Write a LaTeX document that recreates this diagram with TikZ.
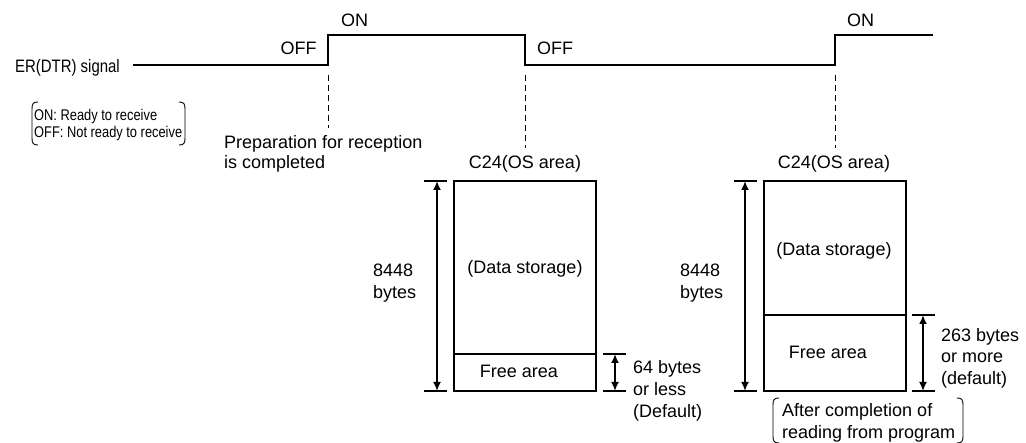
\documentclass[tikz,border=0pt]{standalone}
\usepackage{fontspec}
\setmainfont{Liberation Sans}
\newfontfamily\narrowfont[FakeStretch=0.83]{Liberation Sans}
\usetikzlibrary{arrows.meta}
\begin{document}
\begin{tikzpicture}[x=1pt,y=-1pt,
  sig/.style={line width=2pt, line join=miter},
  dashline/.style={line width=0.9pt, dash pattern=on 6pt off 4pt},
  boxline/.style={line width=1.8pt},
  dimarrow/.style={line width=1.8pt, {Latex[length=9pt,width=8pt]}-{Latex[length=9pt,width=8pt]}},
  tickline/.style={line width=1.5pt},
  brk/.style={line width=0.9pt},
  txt/.style={inner sep=0pt, font=\fontsize{18}{22}\selectfont, align=left},
  ntxt/.style={inner sep=0pt, font=\narrowfont\fontsize{18}{22}\selectfont},
  ltxt/.style={inner sep=0pt, font=\narrowfont\fontsize{15.5}{16.2}\selectfont, align=left}]
\useasboundingbox (0,0) rectangle (1026,443);

% signal
\coordinate (s0) at (133,65);
\coordinate (r1) at (328,65);
\coordinate (r1h) at (328,35);
\coordinate (f1h) at (525,35);
\coordinate (f1) at (525,65);
\coordinate (r2) at (835,65);
\coordinate (r2h) at (835,35);
\coordinate (s1) at (933,35);
\draw[sig] (s0) -- (r1) -- (r1h) -- (f1h) -- (f1) -- (r2) -- (r2h) -- (s1);

\node[ntxt, anchor=base east] (sigl) at (120,73) {ER(DTR) signal};
\node[txt, anchor=base] (off1) at (298.5,54.7) {OFF};
\node[txt, anchor=base] (on1) at (354.5,27) {ON};
\node[txt, anchor=base] (off2) at (555,54.7) {OFF};
\node[txt, anchor=base] (on2) at (860.5,26.5) {ON};

% legend
\node[ltxt, anchor=base west] (leg) at (34,137.2) {ON: Ready to receive\\OFF: Not ready to receive};
\draw[brk] (38,102) .. controls (33,102) and (32,104) .. (32,109) -- (32,138) .. controls (32,143) and (33,145) .. (38,145);
\draw[brk] (179,102) .. controls (184,102) and (185,104) .. (185,109) -- (185,138) .. controls (185,143) and (184,145) .. (179,145);

% dashed lines
\coordinate (d1a) at (328,75); \coordinate (d1b) at (328,128);
\coordinate (d2a) at (525,75); \coordinate (d2b) at (525,148);
\coordinate (d3a) at (835,75); \coordinate (d3b) at (835,148);
\draw[dashline] (d1a) -- (d1b);
\draw[dashline] (d2a) -- (d2b);
\draw[dashline] (d3a) -- (d3b);

\node[txt, font=\fontsize{18}{20}\selectfont, anchor=base west] (prep) at (224,168.5) {Preparation for reception\\is completed};
\node[txt, anchor=base] (c24a) at (525,169) {C24(OS area)};
\node[txt, anchor=base] (c24b) at (834,169) {C24(OS area)};

% box 1
\coordinate (b1tl) at (454,181); \coordinate (b1br) at (596,391);
\draw[boxline] (b1tl) rectangle (b1br);
\coordinate (b1dl) at (454,354); \coordinate (b1dr) at (596,354);
\draw[boxline] (b1dl) -- (b1dr);
\node[txt, anchor=base] (ds1) at (525,273.5) {(Data storage)};
\node[txt, anchor=base] (fa1) at (519,378) {Free area};

% box 2
\coordinate (b2tl) at (764,181); \coordinate (b2br) at (906,391);
\draw[boxline] (b2tl) rectangle (b2br);
\coordinate (b2dl) at (764,315); \coordinate (b2dr) at (906,315);
\draw[boxline] (b2dl) -- (b2dr);
\node[txt, anchor=base] (ds2) at (834,255.8) {(Data storage)};
\node[txt, anchor=base] (fa2) at (828,359) {Free area};

% dimension 8448 (1)
\coordinate (t1a) at (424,181); \coordinate (t1b) at (447,181);
\coordinate (t1c) at (424,391); \coordinate (t1d) at (447,391);
\draw[tickline] (t1a) -- (t1b);
\draw[tickline] (t1c) -- (t1d);
\coordinate (a1t) at (437,181); \coordinate (a1b) at (437,391);
\draw[dimarrow] (a1t) -- (a1b);
\node[txt, anchor=base west] (sz1) at (373,298.5) {8448\\bytes};

% dimension free (1)
\coordinate (u1a) at (603,354); \coordinate (u1b) at (626,354);
\coordinate (u1c) at (603,391); \coordinate (u1d) at (626,391);
\draw[tickline] (u1a) -- (u1b);
\draw[tickline] (u1c) -- (u1d);
\coordinate (e1t) at (615,354); \coordinate (e1b) at (615,391);
\draw[dimarrow] (e1t) -- (e1b);
\node[txt, anchor=base west] (fr1) at (633,417.5) {64 bytes\\or less\\(Default)};

% dimension 8448 (2)
\coordinate (t2a) at (734,181); \coordinate (t2b) at (757,181);
\coordinate (t2c) at (734,391); \coordinate (t2d) at (757,391);
\draw[tickline] (t2a) -- (t2b);
\draw[tickline] (t2c) -- (t2d);
\coordinate (a2t) at (745,181); \coordinate (a2b) at (745,391);
\draw[dimarrow] (a2t) -- (a2b);
\node[txt, anchor=base west] (sz2) at (680,298.5) {8448\\bytes};

% dimension free (2)
\coordinate (u2a) at (912,315); \coordinate (u2b) at (935,315);
\coordinate (u2c) at (912,391); \coordinate (u2d) at (935,391);
\draw[tickline] (u2a) -- (u2b);
\draw[tickline] (u2c) -- (u2d);
\coordinate (e2t) at (923,315); \coordinate (e2b) at (923,391);
\draw[dimarrow] (e2t) -- (e2b);
\node[txt, font=\fontsize{18}{21.5}\selectfont, anchor=base west] (fr2) at (941,384.5) {263 bytes\\or more\\(default)};

% bottom note
\node[txt, anchor=base west] (note) at (782,438.5) {After completion of\\reading from program};
\draw[brk] (779,398) .. controls (774,398) and (773,400) .. (773,405) -- (773,436) .. controls (773,441) and (774,443) .. (779,443);
\draw[brk] (957,398) .. controls (962,398) and (963,400) .. (963,405) -- (963,436) .. controls (963,441) and (962,443) .. (957,443);
\end{tikzpicture}
\end{document}
